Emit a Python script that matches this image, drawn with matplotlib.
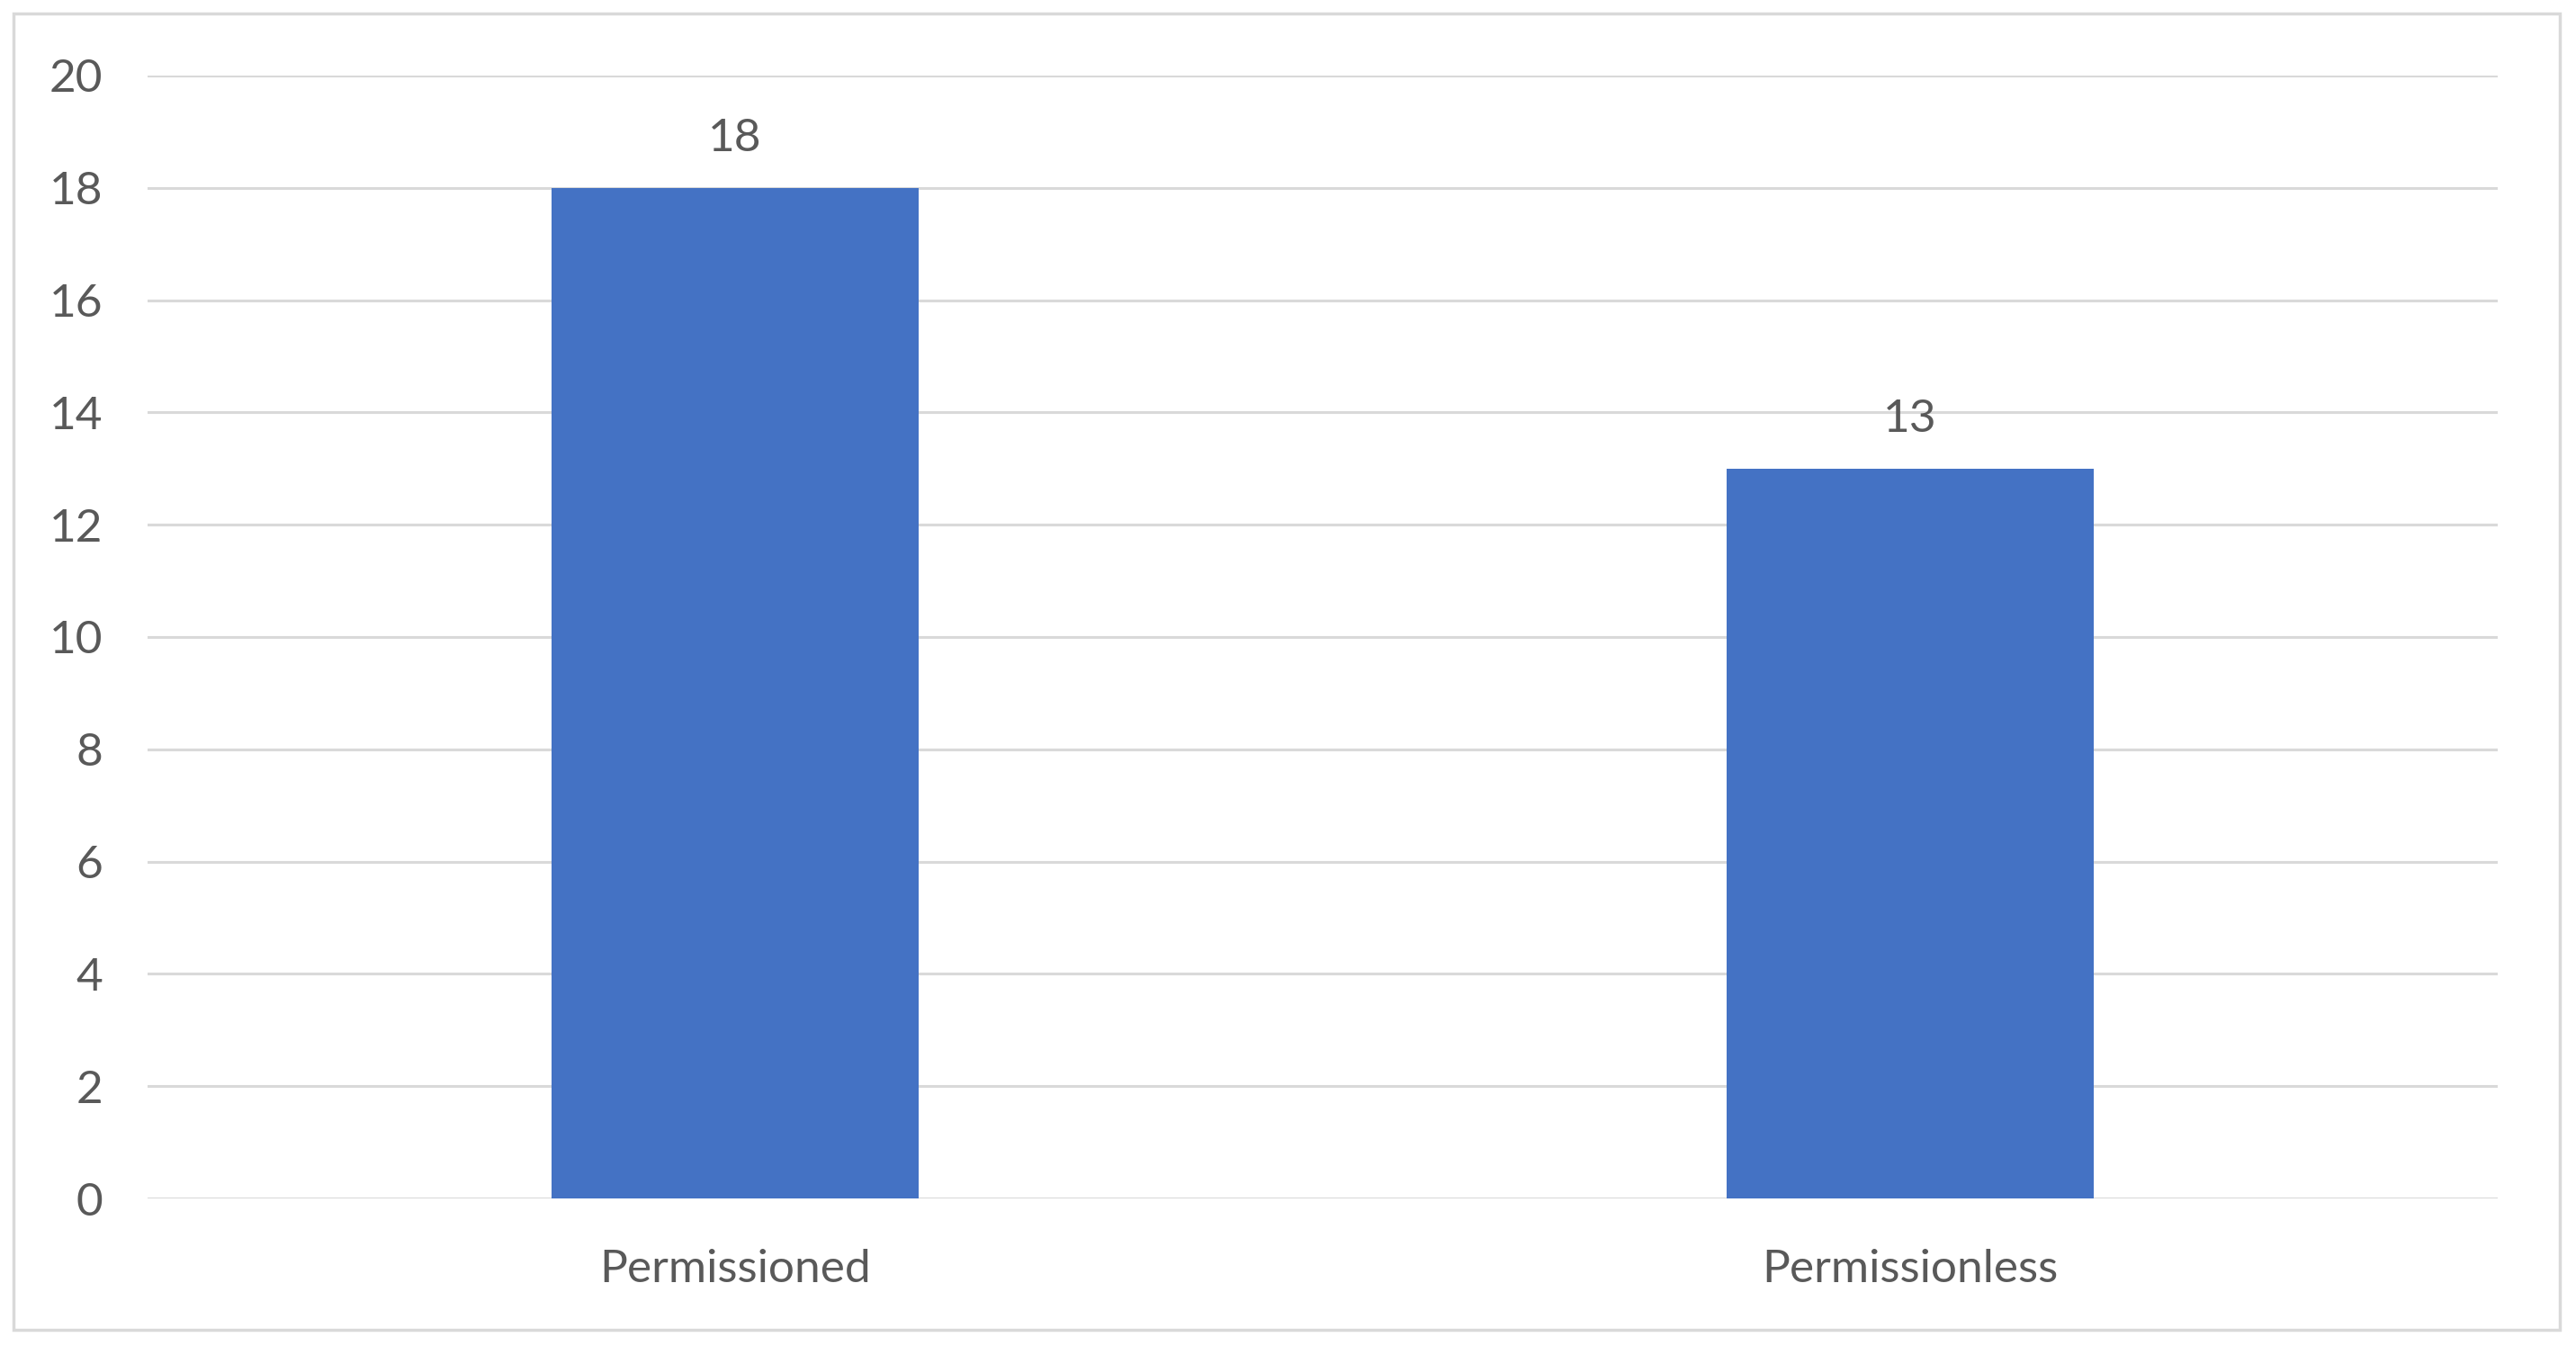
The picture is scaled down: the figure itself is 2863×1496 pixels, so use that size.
import matplotlib
matplotlib.use('Agg')
import matplotlib.pyplot as plt
from matplotlib.patches import Rectangle

categories = ['Permissioned', 'Permissionless']
counts = [18, 13]
yticks = [0, 2, 4, 6, 8, 10, 12, 14, 16, 18, 20]

plt.rcParams['font.family'] = ['Lato', 'DejaVu Sans']
txtcol = '#595959'
gridcol = '#D9D9D9'

fg = plt.figure(figsize=(28.63, 14.96), dpi=100)
ax = fg.add_axes([0.0573, 0.1096, 0.9123, 0.8343])

# outer chart border
fg.patches.append(Rectangle((15/2863, 1-1478/1496), (2845-15)/2863, (1478-15)/1496,
                            transform=fg.transFigure, fill=False, edgecolor=gridcol, linewidth=2.5))

x = range(len(categories))
bars = ax.bar(x, counts, width=0.313, color='#4472C4', zorder=3)
for b, v in zip(bars, counts):
    ax.annotate(f'{v}', (b.get_x() + b.get_width()/2, v), xytext=(0, 23),
                textcoords='offset points', ha='center', va='bottom', fontsize=37, color=txtcol)

ax.set_xlim(-0.5, 1.5)
ax.set_ylim(0, 20)
ax.set_yticks(yticks)
ax.set_xticks(list(x))
ax.set_xticklabels(categories)
ax.tick_params(axis='both', length=0, labelsize=37, labelcolor=txtcol)
ax.tick_params(axis='x', pad=40)
ax.tick_params(axis='y', pad=36)
ax.grid(axis='y', color=gridcol, linewidth=2.2, zorder=0)
for s in ax.spines.values():
    s.set_visible(False)
ax.set_facecolor('none')

fg.savefig('out.png', dpi=100, facecolor='white')
